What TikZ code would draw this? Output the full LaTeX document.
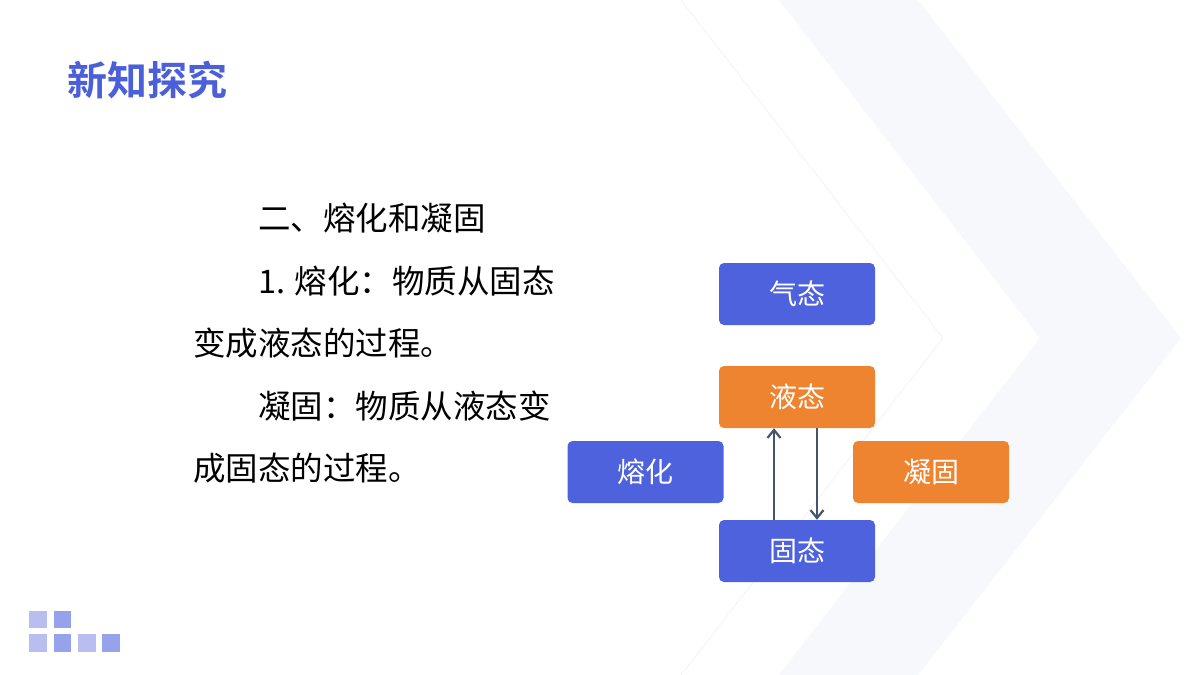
\documentclass[tikz,border=0pt]{standalone}
\usepackage{fontspec}
\setmainfont{Noto Sans CJK SC}
\newfontfamily\cjkb{Noto Sans CJK SC Bold}
\usetikzlibrary{arrows.meta}
\definecolor{tblue}{HTML}{4B5FD8}
\definecolor{bblue}{HTML}{4E62DD}
\definecolor{borange}{HTML}{EE8330}
\definecolor{arr}{HTML}{44546A}
\definecolor{band}{HTML}{F7F8FC}
\definecolor{sqa}{HTML}{B8BEF0}
\definecolor{sqb}{HTML}{97A2EC}
\tikzset{
 box/.style={rounded corners=5pt,minimum width=156pt,minimum height=62pt,text=white,font=\fontsize{28}{32}\selectfont,inner sep=0pt},
 bluebox/.style={box,fill=bblue},
 orbox/.style={box,fill=borange},
 body/.style={anchor=west,font=\fontsize{32.5}{36}\selectfont,inner sep=0pt},
 con/.style={draw=arr,line width=2.6pt,-{Straight Barb[length=8pt,width=13pt,line width=2.2pt]}}
}
\begin{document}
\begin{tikzpicture}[x=1pt,y=-1pt]
\useasboundingbox (0,0) rectangle (1200,675);
\fill[white] (0,0) rectangle (1200,675);
\fill[band] (779,0) -- (918,0) -- (1181,338) -- (918,675) -- (779,675) -- (1040,338) -- cycle;
\draw[black!6, line width=0.6pt] (681,0) -- (943,338) -- (681,675);
\node[anchor=west,text=tblue,font=\cjkb\fontsize{40}{44}\selectfont,inner sep=0pt] (title) at (67,80) {新知探究};
\node[body] (l1) at (258,218) {二、熔化和凝固};
\node[body] (l2) at (258,281) {1. 熔化：物质从固态};
\node[body] (l3) at (193,343) {变成液态的过程。};
\node[body] (l4) at (258,406) {凝固：物质从液态变};
\node[body] (l5) at (193,468) {成固态的过程。};
\node[bluebox] (gas) at (797,294) {气态};
\node[orbox] (liq) at (797,397) {液态};
\node[bluebox] (melt) at (645.5,472) {熔化};
\node[orbox] (sol) at (931,472) {凝固};
\node[bluebox] (solid) at (797,551) {固态};
\draw[con] ([xshift=-23pt]solid.north) -- ([xshift=-23pt]liq.south);
\draw[con] ([xshift=20pt]liq.south) -- ([xshift=20pt]solid.north);
\fill[sqa] (29,611) rectangle (47,628);
\fill[sqb] (54,611) rectangle (71,628);
\fill[sqa] (29,634) rectangle (47,652);
\fill[sqb] (54,634) rectangle (71,652);
\fill[sqa] (78,634) rectangle (96,652);
\fill[sqb] (102,634) rectangle (120,652);
\end{tikzpicture}
\end{document}
